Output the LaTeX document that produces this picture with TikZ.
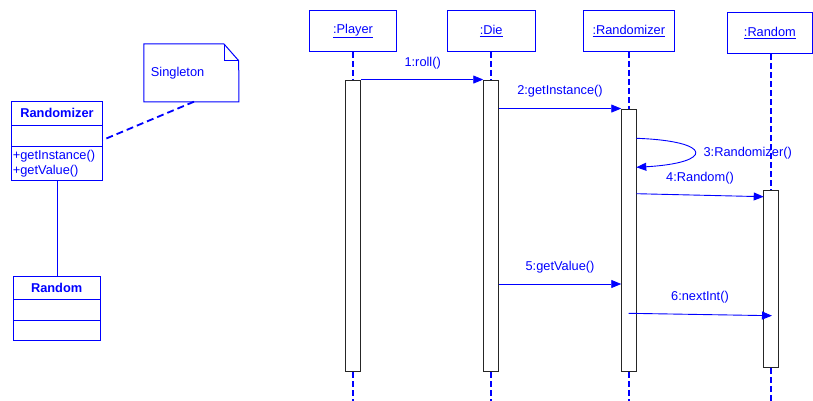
\documentclass[tikz,border=0pt]{standalone}
\usepackage{fontspec}
\setmainfont{Liberation Sans}
\usetikzlibrary{arrows.meta}
\definecolor{ub}{RGB}{0,0,255}
\begin{document}
\begin{tikzpicture}[x=1pt,y=-1pt,
  txt/.style={text=ub, font=\fontsize{12.8}{14}\selectfont, inner sep=0pt},
  hdr/.style={draw=ub, line width=1pt, fill=white, inner sep=0pt, text=ub, font=\fontsize{12.8}{14}\selectfont},
  act/.style={draw=black!85, line width=0.9pt, fill=white, minimum width=14.6pt, inner sep=0pt},
  life/.style={draw=ub, line width=1.6pt, dash pattern=on 6pt off 3pt},
  msg/.style={draw=ub, line width=0.9pt, -{Triangle[length=10pt,width=8pt]}},
  cls/.style={draw=ub, line width=1pt, inner sep=0pt},
  bold/.style={txt, font=\fontsize{12.8}{14}\selectfont\bfseries}
]
\useasboundingbox (0,0) rectangle (813,401);

% ---------- class diagram ----------
\node[cls, minimum width=91.4pt, minimum height=78.3pt] (cR) at (57,140.85) {};
\draw[cls] (11.3,125.7) -- (102.7,125.7);
\draw[cls] (11.3,146.3) -- (102.7,146.3);
\node[bold] (cRname) at (57,113.3) {Randomizer};
\node[txt, anchor=west] (m1) at (12.7,155.7) {+getInstance()};
\node[txt, anchor=west] (m2) at (12.7,170.7) {+getValue()};

\node[cls, minimum width=86.7pt, minimum height=64pt] (cRn) at (56.65,308) {};
\draw[cls] (13.3,299.3) -- (100,299.3);
\draw[cls] (13.3,320) -- (100,320);
\node[bold] (cRnname) at (56.65,287.7) {Random};

\draw[cls] (cR.south -| 57,0) -- (cRn.north -| 57,0);

% note
\node[minimum width=94.7pt, minimum height=57.7pt, inner sep=0pt] (note) at (191.35,72.85) {};
\draw[cls] (note.north west) -- (224,44) -- (238.7,60.7) -- (note.south east) -- (note.south west) -- cycle;
\draw[cls] (224,44) -- (224,60.7) -- (238.7,60.7);
\node[txt, anchor=west] (notetxt) at (150.7,72.7) {Singleton};
\coordinate (nA) at (194,101.7);
\coordinate (nB) at (102.7,140);
\draw[draw=ub, line width=1.8pt, dash pattern=on 7pt off 4pt] (nA) -- (nB);

% ---------- sequence diagram ----------
\node[hdr, minimum width=87.4pt, minimum height=41pt] (hP) at (353,30.8) {\underline{:Player}};
\node[hdr, minimum width=87.7pt, minimum height=41pt] (hD) at (491.2,30.8) {\underline{:Die}};
\node[hdr, minimum width=91pt, minimum height=41pt] (hR) at (628.8,30.8) {\underline{:Randomizer}};
\node[hdr, minimum width=85.2pt, minimum height=41pt] (hRn) at (769.9,33.2) {\underline{:Random}};

\node[act, minimum height=291.7pt] (aP) at (353,225.85) {};
\node[act, minimum height=291.7pt] (aD) at (491,225.85) {};
\node[act, minimum height=262.7pt] (aR) at (629,240.35) {};
\node[act, minimum height=177.4pt] (aRn) at (771,279) {};

\coordinate (eP) at (353,401);
\coordinate (eD) at (491,401);
\coordinate (eR) at (629,401);
\coordinate (eRn) at (771,401);

\draw[life] (hP.south -| aP.north) -- (aP.north);
\draw[life] (aP.south) -- (eP);
\draw[life] (hD.south -| aD.north) -- (aD.north);
\draw[life] (aD.south) -- (eD);
\draw[life] (hR.south -| aR.north) -- (aR.north);
\draw[life] (aR.south) -- (eR);
\draw[life] (hRn.south -| aRn.north) -- (aRn.north);
\draw[life] (aRn.south) -- (eRn);

% messages
\draw[msg] (aP.north east) -- (aD.north west);
\node[txt] (l1) at (422.7,62.7) {1:roll()};

\draw[msg] (aD.east |- aR.north) -- (aR.north west);
\node[txt] (l2) at (560,91.3) {2:getInstance()};

\coordinate (s3a) at (636.3,138.3);
\coordinate (s3b) at (636.3,167.3);
\draw[msg] (s3a) .. controls (714,141) and (714,163) .. (s3b);
\node[txt] (l3) at (747.7,152.7) {3:Randomizer()};

\coordinate (s4) at (636.3,193.7);
\coordinate (t4) at (763.7,196.7);
\draw[msg] (s4) -- (t4);
\node[txt] (l4) at (700,177.7) {4:Random()};

\draw[msg] (aD.east |- 0,284) -- (aR.west |- 0,284);
\node[txt] (l5) at (560,266.7) {5:getValue()};

\coordinate (s6) at (628.7,313.3);
\coordinate (t6) at (772,315.7);
\draw[msg] (s6) -- (t6);
\node[txt] (l6) at (700,296.7) {6:nextInt()};
\end{tikzpicture}
\end{document}
